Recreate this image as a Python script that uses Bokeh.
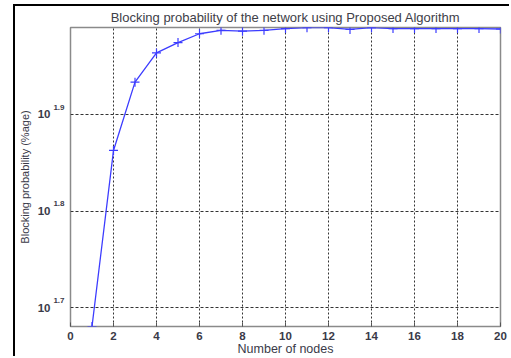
from bokeh.plotting import figure
from bokeh.models import Range1d, FixedTicker, LogAxis
from bokeh.embed import file_html
from bokeh.resources import INLINE

# Data
nodes = list(range(1, 21))
blocking = [47.9, 72.9, 85.8, 92.0, 94.3, 96.3, 97.1, 96.9, 97.1, 97.5,
            97.7, 97.7, 97.3, 97.7, 97.5, 97.5, 97.5, 97.5, 97.5, 97.4]
x_ticks = [0, 2, 4, 6, 8, 10, 12, 14, 16, 18, 20]
y_tick_exps = ["1.7", "1.8", "1.9"]

title_text = "Blocking probability of the network using Proposed Algorithm"
xlabel = "Number of nodes"
ylabel = "Blocking probability (%age)"

FONT = "Liberation Sans"
TXT = "#3a3a48"
BLUE = "#3c3cff"

y_tick_vals = [10 ** float(e) for e in y_tick_exps]
# exponent labels sit a little above their tick (superscript)
SUP_SHIFT = 0.0073
y_sup_vals = [10 ** (float(e) + SUP_SHIFT) for e in y_tick_exps]

p = figure(width=496, height=352, output_backend="svg", toolbar_location=None,
           y_axis_type="log", x_range=Range1d(0, 20), y_range=Range1d(47.9, 97.75),
           min_border_left=55, min_border_right=11, min_border_top=21, min_border_bottom=32,
           margin=(4, 0, 0, 13))
p.styles = {"border-top": "2px solid black", "border-left": "2px solid black"}

p.background_fill_color = "white"
p.border_fill_color = "white"
p.outline_line_color = "#8a8a8a"
p.outline_line_width = 1.5

# title
p.title.text = title_text
p.title.align = "center"
p.title.text_font = FONT
p.title.text_font_size = "13px"
p.title.text_font_style = "normal"
p.title.text_color = "#404048"
p.title.vertical_align = "middle"
p.title.offset = -4
p.title.standoff = 4

# x axis
xa = p.xaxis[0]
xa.ticker = FixedTicker(ticks=x_ticks)
xa.axis_line_color = None
xa.major_tick_in = 4
xa.major_tick_out = 0
xa.major_tick_line_color = "#555555"
xa.minor_tick_line_color = None
xa.major_label_text_font = FONT
xa.major_label_text_font_size = "11.5px"
xa.major_label_text_font_style = "bold"
xa.major_label_text_color = TXT
xa.major_label_standoff = 5
xa.axis_label = xlabel
xa.axis_label_text_font = FONT
xa.axis_label_text_font_size = "12.5px"
xa.axis_label_text_font_style = "normal"
xa.axis_label_text_color = TXT
xa.axis_label_standoff = -1

# inner y axis: carries the exponents (superscripts)
ya = p.yaxis[0]
ya.ticker = FixedTicker(ticks=y_sup_vals, minor_ticks=[])
ya.axis_line_color = None
ya.major_tick_line_color = None
ya.major_tick_in = 0
ya.major_tick_out = 0
ya.minor_tick_line_color = None
ya.major_label_overrides = {v: e for v, e in zip(y_sup_vals, y_tick_exps)}
ya.major_label_text_font = FONT
ya.major_label_text_font_size = "8px"
ya.major_label_text_font_style = "bold"
ya.major_label_text_color = TXT
ya.major_label_standoff = 6

# outer y axis: carries the base "10" and the axis title
ya2 = LogAxis(ticker=FixedTicker(ticks=y_tick_vals, minor_ticks=[]))
ya2.axis_line_color = None
ya2.major_tick_line_color = None
ya2.minor_tick_line_color = None
ya2.major_tick_in = 0
ya2.major_tick_out = 0
ya2.major_label_overrides = {v: "10" for v in y_tick_vals}
ya2.major_label_text_font = FONT
ya2.major_label_text_font_size = "11.5px"
ya2.major_label_text_font_style = "bold"
ya2.major_label_text_color = TXT
ya2.major_label_standoff = 0
ya2.axis_label = ylabel
ya2.axis_label_text_font = FONT
ya2.axis_label_text_font_size = "11px"
ya2.axis_label_text_font_style = "normal"
ya2.axis_label_text_color = TXT
ya2.axis_label_standoff = 4
p.add_layout(ya2, "left")

# grids
p.xgrid.ticker = FixedTicker(ticks=x_ticks[1:-1])
p.xgrid.grid_line_color = "#333333"
p.xgrid.grid_line_dash = "2 2"
p.xgrid.grid_line_width = 1
p.ygrid.ticker = FixedTicker(ticks=y_tick_vals)
p.ygrid.grid_line_color = "#333333"
p.ygrid.grid_line_dash = "3 2"
p.ygrid.grid_line_width = 1

# data
p.line(nodes, blocking, line_color=BLUE, line_width=1.3)
p.scatter(nodes, blocking, marker="cross", size=9, line_color=BLUE, line_width=1.2)

open("out.html", "w").write(file_html(p, INLINE))
